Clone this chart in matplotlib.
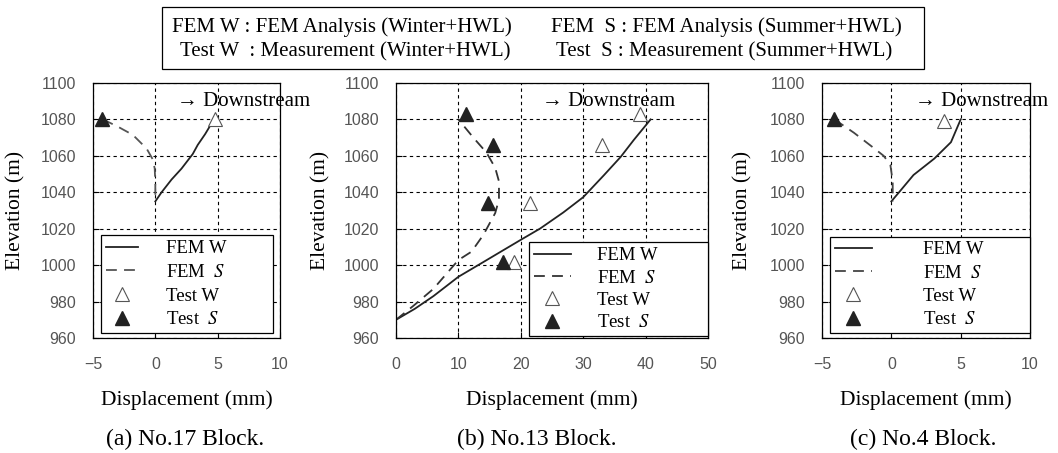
import matplotlib
matplotlib.use("Agg")
import matplotlib.pyplot as plt
from matplotlib.patches import Rectangle

plt.rcParams['mathtext.fontset'] = 'stix'
SERIF = ['Liberation Serif', 'DejaVu Serif']
SANS = ['Liberation Sans', 'DejaVu Sans']

# ---------------- data ----------------
# (a) No.17 Block
a_femw_x = [0.0, 0.5, 1.3, 2.1, 3.0, 3.4, 4.0, 4.7]
a_femw_y = [1035, 1040, 1047, 1053, 1061, 1066, 1072, 1080]
a_fems_x = [-4.2, -3.0, -1.8, -0.7, -0.2, -0.05, 0.0, 0.0]
a_fems_y = [1080, 1076, 1071.5, 1064, 1058, 1053, 1045, 1037]
a_testw_x = [4.8]
a_testw_y = [1080]
a_tests_x = [-4.3]
a_tests_y = [1080]

# (b) No.13 Block
b_femw_x = [0, 3, 6, 10, 14, 16.7, 20, 23.1, 26.8, 30, 33.3, 36, 38.1, 40.8]
b_femw_y = [970, 976, 983, 993.6, 1001.7, 1007.2, 1013.9, 1020.1, 1028.9, 1037.3, 1049.3, 1059.4, 1068.7, 1080]
b_fems_x = [0, 2.8, 6, 10, 12.1, 14, 15.9, 16.5, 16.5, 15.9, 14.5, 12.4, 10]
b_fems_y = [970, 977.7, 987, 1002.8, 1007.4, 1016.6, 1028.6, 1036, 1046, 1053.4, 1061.8, 1070, 1080]
b_testw_x = [39.1, 33.0, 21.5, 18.9]
b_testw_y = [1083, 1066, 1034, 1002]
b_tests_x = [11.2, 15.6, 14.7, 17.2]
b_tests_y = [1083, 1066, 1034, 1002]

# (c) No.4 Block
c_femw_x = [0.0, 0.5, 1.6, 3.1, 4.3, 5.0]
c_femw_y = [1035, 1039.5, 1049.5, 1058.5, 1067.5, 1080]
c_fems_x = [-4.1, -2.7, -1.3, -0.55, -0.07, 0.1, 0.1]
c_fems_y = [1080, 1072.7, 1064.5, 1060, 1055, 1046, 1035]
c_testw_x = [3.8]
c_testw_y = [1079]
c_tests_x = [-4.1]
c_tests_y = [1080]

y_ticks = [960, 980, 1000, 1020, 1040, 1060, 1080, 1100]
xt_ac = [-5, 0, 5, 10]
xt_b = [0, 10, 20, 30, 40, 50]
captions = ["(a) No.17 Block.", "(b) No.13 Block.", "(c) No.4 Block."]
legend_labels = ["FEM W", "FEM  $S$", "Test W", "Test  $S$"]

W, H = 1058, 453
fig = plt.figure(figsize=(W/100, H/100), dpi=100)

specs = [
    dict(rect=[93/W, 1-338/H, 187/W, 255/H], xlim=(-5, 10), xt=xt_ac,
         femw=(a_femw_x, a_femw_y), fems=(a_fems_x, a_fems_y),
         tw=(a_testw_x, a_testw_y), ts=(a_tests_x, a_tests_y),
         dcol='#555555', down=(1.7, 1090), ylx=16,
         leg=(101/W, 1-333/H, 172/W, 94/H), hl=1.7, htp=1.5, ls=0.35, cap=185),
    dict(rect=[396/W, 1-338/H, 312/W, 255/H], xlim=(0, 50), xt=xt_b,
         femw=(b_femw_x, b_femw_y), fems=(b_fems_x, b_fems_y),
         tw=(b_testw_x, b_testw_y), ts=(b_tests_x, b_tests_y),
         dcol='#333333', down=(23.4, 1090), ylx=321,
         leg=(529/W, 1-336/H, 179/W, 89/H), hl=2.0, htp=1.4, ls=0.28, cap=537),
    dict(rect=[822/W, 1-338/H, 208/W, 255/H], xlim=(-5, 10), xt=xt_ac,
         femw=(c_femw_x, c_femw_y), fems=(c_fems_x, c_fems_y),
         tw=(c_testw_x, c_testw_y), ts=(c_tests_x, c_tests_y),
         dcol='#444444', down=(1.7, 1090), ylx=743,
         leg=(830/W, 1-333/H, 200/W, 93/H), hl=2.0, htp=2.7, ls=0.33, cap=923),
]

for i, s in enumerate(specs):
    ax = fig.add_axes(s['rect'])
    ax.set_xlim(*s['xlim'])
    ax.set_ylim(960, 1100)
    ax.set_xticks(s['xt'])
    ax.set_yticks(y_ticks)
    ax.set_xticklabels([str(v).replace('-', '\u2212') for v in s['xt']])
    ax.tick_params(direction='in', length=4, width=0.8, labelsize=11.5,
                   labelcolor='#555555')
    ax.tick_params(axis='x', pad=14)
    ax.tick_params(axis='y', pad=12)
    for lab in ax.get_xticklabels() + ax.get_yticklabels():
        lab.set_family(SANS)
    ax.grid(True, color='black', linestyle=(0, (3, 3)), linewidth=0.8)
    for sp in ax.spines.values():
        sp.set_linewidth(0.9)
    l1, = ax.plot(*s['femw'], color='#222222', lw=1.3)
    l2, = ax.plot(*s['fems'], color=s['dcol'], lw=1.3, linestyle=(0, (6, 4)))
    l3, = ax.plot(*s['tw'], linestyle='none', marker='^', ms=10,
                  markerfacecolor='white', markeredgecolor='#555555', markeredgewidth=0.8)
    l4, = ax.plot(*s['ts'], linestyle='none', marker='^', ms=10,
                  markerfacecolor='#222222', markeredgecolor='#222222')
    ax.text(s['down'][0], s['down'][1], '\u2192 Downstream', family=SERIF,
            fontsize=15, ha='left', va='center', clip_on=False)
    ax.set_xlabel('Displacement (mm)', family=SERIF, fontsize=15.5)
    ax.xaxis.set_label_coords(0.5, -0.205)
    ax.set_ylabel('Elevation (m)', family=SERIF, fontsize=15.5, va='center')
    ax.yaxis.set_label_coords(s['ylx']/W, 0.5, transform=fig.transFigure)
    ax.yaxis.label.set_y(1 - 210/H)
    leg = ax.legend([l1, l2, l3, l4], legend_labels,
                    loc='lower left', bbox_to_anchor=s['leg'],
                    bbox_transform=fig.transFigure, mode='expand',
                    prop={'family': SERIF, 'size': 13.5}, frameon=True,
                    fancybox=False, framealpha=1, edgecolor='black',
                    handlelength=s['hl'], handletextpad=s['htp'], borderaxespad=0,
                    labelspacing=s['ls'], borderpad=0.25)
    leg.get_frame().set_linewidth(0.9)
    fig.text(s['cap']/W, 1-439/H, captions[i], family=SERIF,
             fontsize=17, ha='center', va='center')

# top explanation box
fig.patches.append(Rectangle((162/W, 1-69/H), (924-162)/W, 62/H,
                             transform=fig.transFigure, fill=False,
                             edgecolor='black', linewidth=0.9))
fig.text(172/W, 1-27/H, 'FEM W : FEM Analysis (Winter+HWL)', family=SERIF,
         fontsize=15, va='center')
fig.text(551/W, 1-27/H, 'FEM  S : FEM Analysis (Summer+HWL)', family=SERIF,
         fontsize=15, va='center')
fig.text(180/W, 1-52/H, 'Test W  : Measurement (Winter+HWL)', family=SERIF,
         fontsize=15, va='center')
fig.text(556/W, 1-52/H, 'Test  S : Measurement (Summer+HWL)', family=SERIF,
         fontsize=15, va='center')

fig.savefig('out.png', dpi=100)
